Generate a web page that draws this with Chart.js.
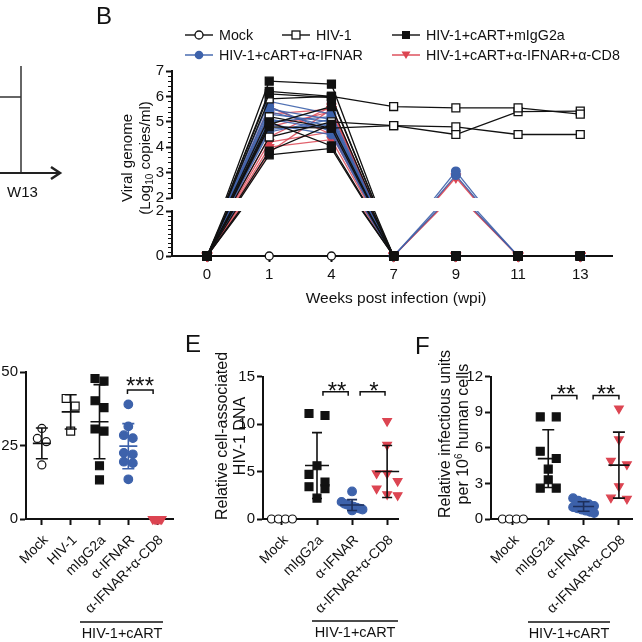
<!DOCTYPE html>
<html>
<head>
<meta charset="utf-8">
<script src="https://cdn.jsdelivr.net/npm/chart.js@4.4.0/dist/chart.umd.min.js"></script>
<style>
html, body { margin: 0; padding: 0; background: #fff; }
body { width: 642px; height: 642px; position: relative; overflow: hidden;
       font-family: 'Liberation Sans', Arial, sans-serif; color: #111; }
.layer { position: absolute; left: 0; top: 0; }
.t { position: absolute; white-space: nowrap; line-height: 1; }
.c { transform: translate(-50%, -50%); }
.yt { position: absolute; white-space: nowrap; text-align: center; line-height: 18px;
      transform: translate(-50%, -50%) rotate(-90deg); }
.leg { position: absolute; display: flex; align-items: center; transform: translateY(-50%);
       font-size: 14.3px; white-space: nowrap; }
.leg svg { margin-right: 6px; }
sub { font-size: 10px; vertical-align: -3px; line-height: 0; }
sup { font-size: 10px; vertical-align: 6px; line-height: 0; }
.star { position: absolute; font-size: 24px; line-height: 1; transform: translateX(-50%); }
</style>
</head>
<body>

<canvas id="bTop" class="layer" width="642" height="642"></canvas>
<canvas id="bLow" class="layer" width="642" height="642"></canvas>
<canvas id="dPanel" class="layer" width="642" height="642"></canvas>
<canvas id="ePanel" class="layer" width="642" height="642"></canvas>
<canvas id="fPanel" class="layer" width="642" height="642"></canvas>

<svg class="layer" width="642" height="642">
  <!-- piece of panel A -->
  <line x1="0" y1="97" x2="21" y2="97" stroke="#333" stroke-width="1.5"/>
  <line x1="21" y1="66" x2="21" y2="173" stroke="#333" stroke-width="1.5"/>
  <line x1="0" y1="173" x2="58" y2="173" stroke="#222" stroke-width="2"/>
  <polyline points="51,167 60,173 51,179" fill="none" stroke="#222" stroke-width="2.5"/>
  <!-- HIV-1+cART group lines -->
  <line x1="80" y1="622" x2="163" y2="622" stroke="#111" stroke-width="1.5"/>
  <line x1="312" y1="621" x2="398" y2="621" stroke="#111" stroke-width="1.5"/>
  <line x1="528" y1="622" x2="610" y2="622" stroke="#111" stroke-width="1.5"/>
</svg>

<div class="t" style="left:7px;top:191px;font-size:15px;transform:translateY(-50%)">W13</div>

<div class="t" style="left:96px;top:4px;font-size:24px">B</div>
<div class="t" style="left:185px;top:332px;font-size:24px">E</div>
<div class="t" style="left:415px;top:334px;font-size:24px">F</div>

<div class="leg" style="left:185px;top:35px"><svg width="28" height="12"><line x1="0" y1="6" x2="28" y2="6" stroke="#111" stroke-width="1.4"/><circle cx="14" cy="6" r="4" fill="#fff" stroke="#111" stroke-width="1.3"/></svg>Mock</div>
<div class="leg" style="left:282px;top:35px"><svg width="28" height="12"><line x1="0" y1="6" x2="28" y2="6" stroke="#111" stroke-width="1.4"/><rect x="10" y="2" width="8" height="8" fill="#fff" stroke="#111" stroke-width="1.3"/></svg>HIV-1</div>
<div class="leg" style="left:392px;top:35px"><svg width="28" height="12"><line x1="0" y1="6" x2="28" y2="6" stroke="#111" stroke-width="1.4"/><rect x="10" y="2" width="8" height="8" fill="#111"/></svg>HIV-1+cART+mIgG2a</div>
<div class="leg" style="left:185px;top:55px"><svg width="28" height="12"><line x1="0" y1="6" x2="28" y2="6" stroke="#3d62ab" stroke-width="1.4"/><circle cx="14" cy="6" r="4.3" fill="#3d62ab"/></svg>HIV-1+cART+α-IFNAR</div>
<div class="leg" style="left:392px;top:55px"><svg width="28" height="12"><line x1="0" y1="6" x2="28" y2="6" stroke="#dc4552" stroke-width="1.4"/><polygon points="9.5,2.5 18.5,2.5 14,10" fill="#dc4552"/></svg>HIV-1+cART+α-IFNAR+α-CD8</div>

<div class="yt" style="left:136px;top:158px;font-size:15px">Viral genome<br>(Log<sub>10</sub> copies/ml)</div>
<div class="t c" style="left:396px;top:298px;font-size:15.5px">Weeks post infection (wpi)</div>

<div class="yt" style="left:231px;top:436px;font-size:16px">Relative cell-associated<br>HIV-1 DNA</div>
<div class="yt" style="left:454px;top:434px;font-size:16px">Relative infectious units<br>per 10<sup>6</sup> human cells</div>

<div class="t c" style="left:122px;top:633px;font-size:14.5px">HIV-1+cART</div>
<div class="t c" style="left:355px;top:632px;font-size:14.5px">HIV-1+cART</div>
<div class="t c" style="left:569px;top:633px;font-size:14.5px">HIV-1+cART</div>

<div class="star" style="left:140px;top:374px">***</div>
<div class="star" style="left:337px;top:379px">**</div>
<div class="star" style="left:374px;top:379px">*</div>
<div class="star" style="left:566px;top:382px">**</div>
<div class="star" style="left:606px;top:382px">**</div>

<script>
// ---- panel B: viral load per mouse (log10 copies/ml) at each week ----
const weeks = ['0', '1', '4', '7', '9', '11', '13'];
const mockViral = [
    [0, 0, 0, 0, 0, 0, 0]
];
const hivViral = [
    [0, 5.9, 6.0, 5.6, 5.55, 5.55, 5.3],
    [0, 4.4, 5.0, 4.85, 4.5, 5.4, 5.42],
    [0, 5.2, 4.75, 4.85, 4.8, 4.5, 4.5]
];
const iggViral = [
    [0, 6.6, 6.48, 0, 0, 0, 0],
    [0, 6.2, 6.0, 0, 0, 0, 0],
    [0, 6.1, 5.95, 0, 0, 0, 0],
    [0, 5.0, 4.05, 0, 0, 0, 0],
    [0, 4.9, 5.6, 0, 0, 0, 0],
    [0, 4.8, 4.75, 0, 0, 0, 0],
    [0, 3.85, 4.9, 0, 0, 0, 0],
    [0, 3.7, 3.95, 0, 0, 0, 0]
];
const ifnarViral = [
    [0, 5.8, 5.3, 0, 3.05, 0, 0],
    [0, 5.6, 4.6, 0, 2.9, 0, 0],
    [0, 5.5, 5.1, 0, 0, 0, 0],
    [0, 5.4, 4.8, 0, 0, 0, 0],
    [0, 5.3, 5.0, 0, 0, 0, 0],
    [0, 5.1, 4.7, 0, 0, 0, 0],
    [0, 5.0, 5.2, 0, 0, 0, 0],
    [0, 4.9, 4.5, 0, 0, 0, 0],
    [0, 4.7, 4.9, 0, 0, 0, 0],
    [0, 4.6, 5.1, 0, 0, 0, 0]
];
const cd8Viral = [
    [0, 5.6, 4.5, 0, 2.85, 0, 0],
    [0, 5.3, 5.5, 0, 2.8, 0, 0],
    [0, 4.8, 5.4, 0, 0, 0, 0],
    [0, 4.4, 5.6, 0, 0, 0, 0],
    [0, 4.2, 4.6, 0, 0, 0, 0],
    [0, 4.0, 4.3, 0, 0, 0, 0],
    [0, 3.8, 5.5, 0, 0, 0, 0]
];

// ---- bottom-left panel ----
const dCats = ['Mock', 'HIV-1', 'mIgG2a', 'α-IFNAR', 'α-IFNAR+α-CD8'];
const dMock = [30.8, 27.4, 26.3, 18.4];
const dHiv = [41, 38.4, 29.9];
const dIgg = [47.8, 46.9, 40.2, 37.9, 30.6, 29.9, 18.1, 13.3];
const dIfnar = [39, 31.5, 28.5, 27.5, 22.5, 22, 19.5, 19, 13.5];
const dCd8 = [0, 0, 0, 0, 0, 0, 0];

// ---- panel E: relative cell-associated HIV-1 DNA ----
const eCats = ['Mock', 'mIgG2a', 'α-IFNAR', 'α-IFNAR+α-CD8'];
const eMock = [0, 0, 0, 0];
const eIgg = [11.1, 10.9, 5.6, 4.7, 3.9, 3.4, 3.2, 2.2];
const eIfnar = [2.9, 1.8, 1.6, 1.5, 1.4, 1.3, 1.2, 1.1, 1.0, 0.9];
const eCd8 = [10.3, 7.8, 4.8, 4.8, 4.0, 3.2, 2.6, 2.5];

// ---- panel F: relative infectious units per 10^6 human cells ----
const fCats = ['Mock', 'mIgG2a', 'α-IFNAR', 'α-IFNAR+α-CD8'];
const fMock = [0, 0, 0, 0];
const fIgg = [8.6, 8.6, 5.7, 5.1, 4.2, 3.3, 2.6, 2.6];
const fIfnar = [1.75, 1.55, 1.4, 1.25, 1.1, 1.0, 0.9, 0.8, 0.7, 0.6, 0.5];
const fCd8 = [9.3, 6.7, 4.9, 4.6, 2.75, 1.7, 1.8];

const PAGE = 642;
const BLUE = '#3d62ab';
const RED = '#dc4552';
const INK = '#111';

Chart.defaults.font.family = "'Liberation Sans', Arial, sans-serif";
Chart.defaults.color = INK;

const styles = {
    mock:  { pointStyle: 'circle', radius: 4, bg: '#fff', bd: INK },
    hiv:   { pointStyle: 'rect', radius: 5.6, bg: '#fff', bd: INK },
    igg:   { pointStyle: 'rect', radius: 5.6, bg: INK, bd: INK },
    ifnar: { pointStyle: 'circle', radius: 4.3, bg: BLUE, bd: BLUE },
    cd8:   { pointStyle: 'triangle', rotation: 180, radius: 5, bg: RED, bd: RED }
};

// extra drawing per canvas: error bars, brackets, minor ticks
const extras = {};

const extrasPlugin = {
    id: 'extras',
    afterDatasetsDraw(chart) {
        const conf = extras[chart.canvas.id];
        if (!conf) return;
        const { ctx } = chart;
        const x = chart.scales.x;
        const y = chart.scales.y;
        ctx.save();
        ctx.lineCap = 'butt';

        (conf.groups || []).forEach((vals, i) => {
            const n = vals.length;
            const mean = vals.reduce((a, b) => a + b, 0) / n;
            const sd = Math.sqrt(vals.reduce((a, b) => a + (b - mean) * (b - mean), 0) / (n - 1));
            if (sd === 0) return;
            const cx = x.getPixelForValue(i);
            ctx.strokeStyle = conf.barColors[i];
            ctx.lineWidth = 1.6;
            const yt = y.getPixelForValue(mean + sd);
            const yb = y.getPixelForValue(Math.max(mean - sd, 0));
            const ym = y.getPixelForValue(mean);
            ctx.beginPath();
            ctx.moveTo(cx, yt); ctx.lineTo(cx, yb);
            ctx.moveTo(cx - conf.capW / 2, yt); ctx.lineTo(cx + conf.capW / 2, yt);
            ctx.moveTo(cx - conf.capW / 2, yb); ctx.lineTo(cx + conf.capW / 2, yb);
            ctx.moveTo(cx - conf.meanW / 2, ym); ctx.lineTo(cx + conf.meanW / 2, ym);
            ctx.stroke();
        });

        (conf.brackets || []).forEach(([x1, x2, v]) => {
            const px1 = x.getPixelForValue(x1);
            const px2 = x.getPixelForValue(x2);
            const py = y.getPixelForValue(v);
            ctx.strokeStyle = INK;
            ctx.lineWidth = 1.5;
            ctx.beginPath();
            ctx.moveTo(px1, py + 4); ctx.lineTo(px1, py);
            ctx.lineTo(px2, py); ctx.lineTo(px2, py + 4);
            ctx.stroke();
        });

        if (conf.minor) {
            const ax = chart.chartArea.left;
            ctx.strokeStyle = INK;
            ctx.lineWidth = 1.1;
            ctx.beginPath();
            for (let v = y.min + conf.minor; v < y.max - 1e-6; v += conf.minor) {
                if (Math.abs(v / conf.major - Math.round(v / conf.major)) < 1e-6) continue;
                const py = Math.round(y.getPixelForValue(v)) + 0.5;
                ctx.moveTo(ax - 4, py); ctx.lineTo(ax, py);
            }
            ctx.stroke();
        }
        ctx.restore();
    }
};

function frame(a, yW, xH) {
    return { padding: { left: a.l - yW, top: a.t, right: PAGE - a.r, bottom: PAGE - a.b - xH } };
}

function axisLook() {
    return {
        grid: { drawOnChartArea: false, drawTicks: true, tickLength: 6, tickWidth: 2, tickColor: INK },
        border: { display: true, color: INK, width: 2 }
    };
}

function yAxis(min, max, step, width, pad) {
    return Object.assign({
        type: 'linear', min, max,
        ticks: { stepSize: step, font: { size: 15 }, color: INK, padding: pad },
        afterFit: s => { s.width = width; }
    }, axisLook());
}

function catAxis(cats, min, max, height, rot, size, pad, shift) {
    return Object.assign({
        type: 'linear', min, max,
        afterBuildTicks: s => { s.ticks = cats.map((c, i) => ({ value: i })); },
        ticks: {
            callback: v => cats[v], autoSkip: false,
            minRotation: rot, maxRotation: rot,
            font: { size }, color: INK, padding: pad, labelOffset: shift
        },
        afterFit: s => { s.height = height; }
    }, axisLook());
}

// spread points of one group sideways, rows of close values centred on the category
function swarm(values, pxPerY, pxPerX, size, gap, maxSpan) {
    const order = values.map((v, i) => i).sort((a, b) => values[b] - values[a]);
    const out = new Array(values.length).fill(0);
    let row = [];
    const flush = () => {
        const n = row.length;
        const g = n > 1 ? Math.min(gap, maxSpan / (n - 1)) : 0;
        row.forEach((k, j) => { out[k] = (j - (n - 1) / 2) * g / pxPerX; });
        row = [];
    };
    order.forEach(k => {
        if (row.length && (values[row[0]] - values[k]) * pxPerY > size) flush();
        row.push(k);
    });
    flush();
    return out;
}

function viralChart(id, area, yMin, yMax, step, showX, clip) {
    const sets = [];
    const add = (rows, st, color) => rows.forEach(r => sets.push({
        data: r.map((v, i) => ({ x: i, y: v })),
        borderColor: color, borderWidth: 1.3, tension: 0,
        pointStyle: st.pointStyle, pointRotation: st.rotation || 0, pointRadius: st.radius,
        pointBackgroundColor: st.bg, pointBorderColor: st.bd, pointBorderWidth: 1.3,
        clip
    }));
    add(iggViral, styles.igg, INK);
    add(hivViral, styles.hiv, INK);
    add(mockViral, styles.mock, INK);
    add(ifnarViral, styles.ifnar, 'rgba(61,98,171,0.9)');
    add(cd8Viral, styles.cd8, 'rgba(220,69,82,0.85)');

    const xH = showX ? 34 : 0;
    const xAxis = catAxis(weeks, -0.563, 6.51, xH, 0, 15, 4, 0);
    xAxis.display = showX;
    extras[id] = { minor: 0.2, major: step };
    return new Chart(document.getElementById(id), {
        type: 'line',
        data: { datasets: sets },
        plugins: [extrasPlugin],
        options: {
            responsive: false, animation: false, events: [],
            layout: frame(area, 30, xH),
            plugins: { legend: { display: false }, tooltip: { enabled: false } },
            scales: { x: xAxis, y: yAxis(yMin, yMax, step, 30, 2) }
        }
    });
}

function dotChart(id, p) {
    const a = p.area;
    const pxX = (a.r - a.l) / (p.xMax - p.xMin);
    const pxY = (a.b - a.t) / p.yMax;
    const datasets = p.groups.map((vals, i) => {
        const st = styles[p.keys[i]];
        const off = swarm(vals, pxY, pxX, 8, p.gap, p.span);
        return {
            data: vals.map((v, k) => ({ x: i + off[k], y: v })),
            pointStyle: st.pointStyle, pointRotation: st.rotation || 0, pointRadius: st.radius,
            pointBackgroundColor: st.bg, pointBorderColor: st.bd, pointBorderWidth: 1.2,
            clip: false
        };
    });
    extras[id] = {
        groups: p.groups, barColors: p.barColors,
        meanW: p.meanW, capW: p.capW, brackets: p.brackets
    };
    const yW = Math.min(30, a.l);
    const xH = 110;
    return new Chart(document.getElementById(id), {
        type: 'scatter',
        data: { datasets },
        plugins: [extrasPlugin],
        options: {
            responsive: false, animation: false, events: [],
            layout: frame(a, yW, xH),
            plugins: { legend: { display: false }, tooltip: { enabled: false } },
            scales: {
                x: catAxis(p.cats, p.xMin, p.xMax, xH, 45, 14, 7, 4),
                y: yAxis(0, p.yMax, p.step, yW, 2)
            }
        }
    });
}

// panel B, broken y axis drawn as two stacked plots
viralChart('bTop', { l: 172, r: 612, t: 71, b: 198 }, 2, 7, 1, false,
    { left: 12, right: 12, top: 12, bottom: 0 });
viralChart('bLow', { l: 172, r: 612, t: 211, b: 256 }, 0, 2, 2, true,
    { left: 12, right: 12, top: 0, bottom: 12 });

dotChart('dPanel', {
    area: { l: 26, r: 173, t: 372, b: 519 }, xMin: -0.55, xMax: 4.55,
    yMax: 50, step: 25, cats: dCats,
    groups: [dMock, dHiv, dIgg, dIfnar, dCd8],
    keys: ['mock', 'hiv', 'igg', 'ifnar', 'cd8'],
    barColors: [INK, INK, INK, BLUE, INK],
    gap: 9.5, span: 9, meanW: 18, capW: 12,
    brackets: [[2.97, 3.86, 43.9]]
});

dotChart('ePanel', {
    area: { l: 263, r: 398, t: 376.5, b: 519 }, xMin: -0.54, xMax: 3.31,
    yMax: 15, step: 5, cats: eCats,
    groups: [eMock, eIgg, eIfnar, eCd8],
    keys: ['mock', 'igg', 'ifnar', 'cd8'],
    barColors: [INK, INK, '#1d2f5c', INK],
    gap: 16, span: 21, meanW: 24, capW: 10,
    brackets: [[1.17, 1.89, 13.4], [2.23, 2.94, 13.4]]
});

dotChart('fPanel', {
    area: { l: 491, r: 632, t: 376.5, b: 519 }, xMin: -0.62, xMax: 3.37,
    yMax: 12, step: 3, cats: fCats,
    groups: [fMock, fIgg, fIfnar, fCd8],
    keys: ['mock', 'igg', 'ifnar', 'cd8'],
    barColors: [INK, INK, '#1d2f5c', INK],
    gap: 16, span: 21, meanW: 21, capW: 12,
    brackets: [[1.1, 1.81, 10.4], [2.27, 3.0, 10.4]]
});
</script>
</body>
</html>
